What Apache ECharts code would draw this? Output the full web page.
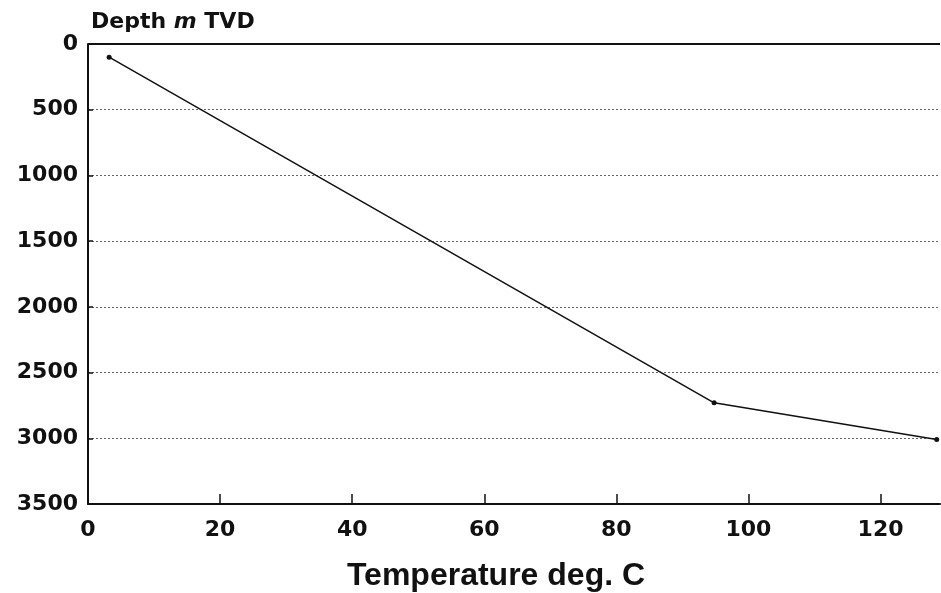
<!DOCTYPE html>
<html>
<head>
<meta charset="utf-8">
<script src="https://cdn.jsdelivr.net/npm/echarts@6/dist/echarts.min.js"></script>
<style>
  html, body { margin: 0; padding: 0; background: #fff; }
  #main { width: 941px; height: 593px; }
</style>
</head>
<body>
<div id="main"></div>
<script>
// temperature (deg C) vs depth (m TVD)
var temperature = [3.2, 94.8, 128.5];
var depth = [100, 2730, 3010];
var depthTicks = [0, 500, 1000, 1500, 2000, 2500, 3000, 3500];

var myChart = echarts.init(document.getElementById('main'));

var tickFont = 'DejaVu Sans, Verdana, sans-serif';
var nameFont = 'Liberation Sans, Arial, sans-serif';

var option = {
    backgroundColor: '#fff',
    animation: false,
    title: {
        text: '{a|Depth }{b|m}{a| TVD}',
        left: 86,
        top: 6,
        textStyle: {
            rich: {
                a: { fontFamily: tickFont, fontSize: 22, fontWeight: 'bold', color: '#111' },
                b: { fontFamily: tickFont, fontSize: 22, fontWeight: 'bold', fontStyle: 'italic', color: '#111' }
            }
        }
    },
    grid: { left: 88, right: 1, top: 44, bottom: 89, show: false, outerBoundsMode: 'none', containLabel: false },
    xAxis: {
        type: 'value',
        min: 0,
        max: 129,
        interval: 20,
        position: 'bottom',
        name: 'Temperature deg. C',
        nameLocation: 'middle',
        nameGap: 56,
        nameTextStyle: {
            fontFamily: nameFont, fontSize: 32, fontWeight: 'bold', color: '#111',
            padding: [0, 36, 0, 0]
        },
        axisLine: { show: true, onZero: false, lineStyle: { color: '#111', width: 2 } },
        axisTick: { show: true, inside: true, length: 10, lineStyle: { color: '#111', width: 1.5 } },
        axisLabel: {
            fontFamily: tickFont, fontSize: 22, fontWeight: 'bold', color: '#111', margin: 15,
            showMaxLabel: false
        },
        splitLine: { show: false }
    },
    yAxis: {
        type: 'value',
        inverse: true,
        min: depthTicks[0],
        max: depthTicks[depthTicks.length - 1],
        interval: 500,
        axisLine: { show: true, onZero: false, lineStyle: { color: '#111', width: 2 } },
        axisTick: { show: true, inside: true, length: 5, lineStyle: { color: '#111', width: 1.5 } },
        axisLabel: {
            fontFamily: tickFont, fontSize: 22, fontWeight: 'bold', color: '#111', margin: 10,
            formatter: function (v) { return String(v); }
        },
        splitLine: { show: true, lineStyle: { color: '#666', width: 1, type: [2, 2] } }
    },
    series: [
        {
            type: 'line',
            data: temperature.map(function (t, i) { return [t, depth[i]]; }),
            symbol: 'circle',
            symbolSize: 5,
            itemStyle: { color: '#111' },
            lineStyle: { color: '#111', width: 1.5 }
        },
        {
            // top border of the frame
            type: 'line',
            data: [[0, 0], [129, 0]],
            symbol: 'none',
            silent: true,
            lineStyle: { color: '#111', width: 2 }
        }
    ]
};

myChart.setOption(option);
</script>
</body>
</html>
